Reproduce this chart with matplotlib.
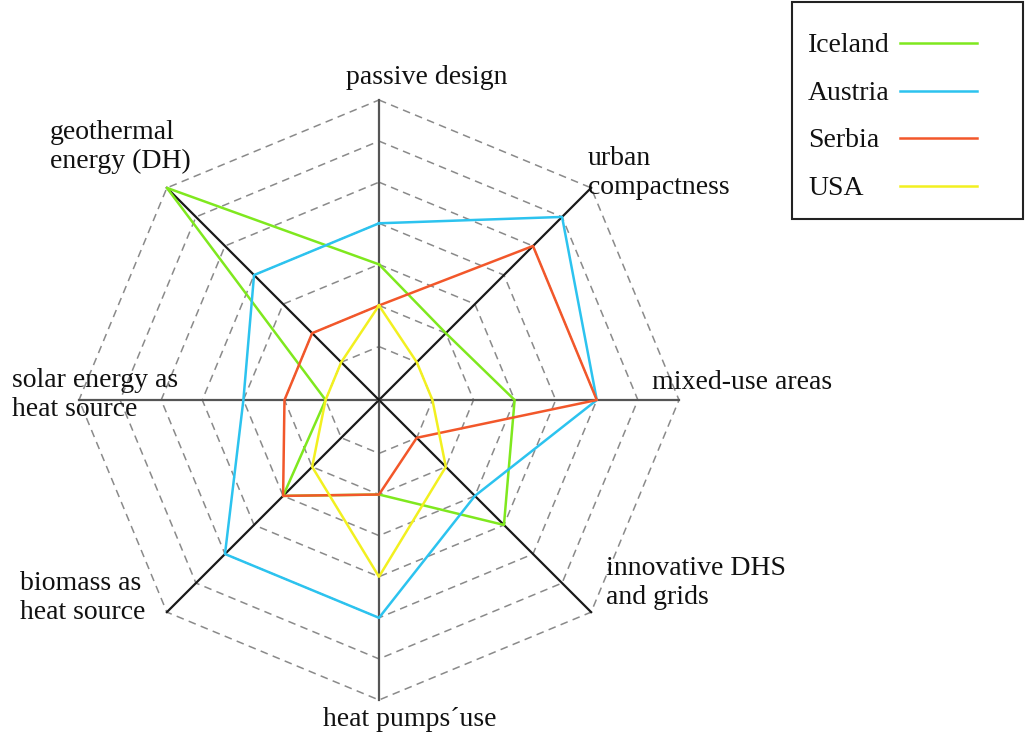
import numpy as np
import matplotlib.pyplot as plt
from matplotlib.patches import Rectangle
from matplotlib.lines import Line2D

# criteria, clockwise from the top
categories = ['passive design', 'urban\ncompactness', 'mixed-use areas',
              'innovative DHS\nand grids', 'heat pumps\u00b4use', 'biomass as\nheat source',
              'solar energy as\nheat source', 'geothermal\nenergy (DH)']

countries = ['Iceland', 'Austria', 'Serbia', 'USA']
iceland = [3, 2, 3, 4, 2, 3, 1, 7]
austria = [4, 6, 5, 3, 5, 5, 3, 4]
serbia = [2, 5, 5, 1, 2, 3, 2, 2]
usa = [2, 1, 1, 2, 4, 2, 1, 1]
colors = ['#7fe81e', '#2cc3ef', '#f2572a', '#f2f020']

levels = [1, 2, 3, 4, 5, 6, 7]
rmin = -0.3   # centre of the web sits a little below 0

W, H = 1029, 735
plt.rcParams['font.family'] = ['Liberation Serif', 'DejaVu Serif']
fig = plt.figure(figsize=(W / 100, H / 100), dpi=100)
ax = fig.add_axes([0, 0, 1, 1])

# place the web centre at (379, 400) px, outer ring 300 px
rmax = levels[-1] - rmin
s = 300 / rmax
cx, cy = 379, 400
ax.set_xlim(-cx / s, (W - cx) / s)
ax.set_ylim(-(H - cy) / s, cy / s)
ax.set_aspect('equal')
ax.axis('off')

n = len(categories)
angles = np.deg2rad(90 - 45 * np.arange(n))


def xy(vals):
    r = np.asarray(vals, float) - rmin
    x = r * np.cos(angles)
    y = r * np.sin(angles)
    return np.append(x, x[0]), np.append(y, y[0])


# dashed rings
for lv in levels:
    gx, gy = xy([lv] * n)
    ax.plot(gx, gy, color='#8a8a8a', lw=1.1, ls=(0, (5, 3.5)), zorder=1)

# spokes
for i, a in enumerate(angles):
    c = '#555555' if i % 2 == 0 else '#1a1a1a'
    ax.plot([0, rmax * np.cos(a)], [0, rmax * np.sin(a)], color=c, lw=1.6, zorder=2)

for vals, col in zip([iceland, austria, serbia, usa], colors):
    px, py = xy(vals)
    ax.plot(px, py, color=col, lw=1.8, zorder=3)


def fpos(x, y):
    return x / W, 1 - y / H


fs = 20
label_pos = [(427, 77, 'center'), (588, 173, 'left'), (652, 383, 'left'),
             (606, 583, 'left'), (410, 720, 'center'), (20, 598, 'left'),
             (12, 395, 'left'), (50, 147, 'left')]
for lab, (x, y, ha) in zip(categories, label_pos):
    fig.text(*fpos(x, y), lab, ha=ha, va='center', fontsize=fs, linespacing=1.25,
             color='#111111')

# legend box
x0, y0 = fpos(792, 219)
x1, y1 = fpos(1023, 2)
fig.patches.append(Rectangle((x0, y0), x1 - x0, y1 - y0, transform=fig.transFigure,
                             facecolor='white', edgecolor='#222222', lw=1.5))
for i, (name, col) in enumerate(zip(countries, colors)):
    ry = 43 + 47.7 * i
    fig.text(*fpos(808, ry + 9), name, ha='left', va='baseline', fontsize=fs,
             color='#111111')
    lx0, ly = fpos(900, ry)
    lx1, _ = fpos(977, ry)
    fig.lines.append(Line2D([lx0, lx1], [ly, ly], transform=fig.transFigure,
                            color=col, lw=1.8))

fig.savefig('out.png', dpi=100)
